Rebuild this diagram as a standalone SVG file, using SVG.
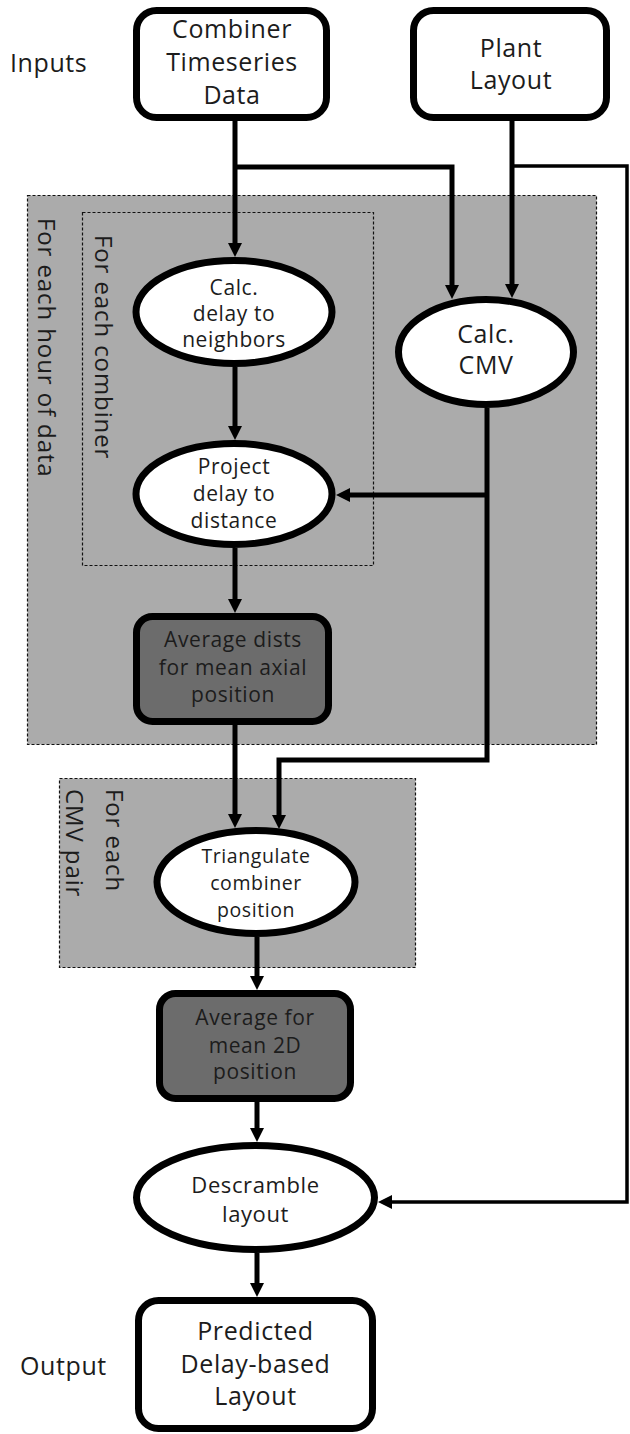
<svg xmlns="http://www.w3.org/2000/svg" width="630" height="1434" viewBox="0 0 630 1434">
  <style>
    .lbl{font-family:"Open Sans","Liberation Sans",sans-serif;fill:#1c1c1c;text-anchor:middle;letter-spacing:0.6px}
    .side{font-family:"Open Sans","Liberation Sans",sans-serif;fill:#1c1c1c;font-size:25px;letter-spacing:0.6px}
    .vt{font-family:"Open Sans","Liberation Sans",sans-serif;fill:#1c1c1c;font-size:24px;letter-spacing:0.9px}
    .box{fill:#ffffff;stroke:#000;stroke-width:7}
    .dark{fill:#6c6c6c;stroke:#000;stroke-width:7}
    .ell{fill:#ffffff;stroke:#000;stroke-width:7}
    .cont{fill:#ababab;stroke:#111;stroke-width:1.2;stroke-dasharray:3 2}
    .cont2{fill:none;stroke:#111;stroke-width:1.2;stroke-dasharray:3 2}
    .con{fill:none;stroke:#000;stroke-width:5}
    .thin{fill:none;stroke:#000;stroke-width:3.5}
  </style>
  <defs>
    <marker id="arr" viewBox="0 0 14 14" refX="8" refY="7" markerWidth="14" markerHeight="14" markerUnits="userSpaceOnUse" orient="auto">
      <path d="M0,0 L14,7 L0,14 z" fill="#000"/>
    </marker>
  </defs>

  <!-- containers -->
  <g id="loop-hour">
    <rect class="cont" x="27.5" y="195.5" width="569" height="549"/>
    <text class="vt" transform="translate(38,218) rotate(90)">For each hour of data</text>
  </g>
  <g id="loop-combiner">
    <rect class="cont2" x="82.5" y="212.5" width="291" height="353"/>
    <text class="vt" transform="translate(95,235) rotate(90)">For each combiner</text>
  </g>
  <g id="loop-cmv">
    <rect class="cont" x="59.5" y="778.5" width="356" height="189"/>
    <text class="vt" transform="translate(106,789) rotate(90)"><tspan x="0" y="0">For each</tspan><tspan x="0" y="40">CMV pair</tspan></text>
  </g>

  <!-- side labels -->
  <text class="side" x="10" y="72">Inputs</text>
  <text class="side" x="20" y="1375">Output</text>

  <!-- connectors -->
  <g id="connectors">
    <path class="con" d="M235,121 V251" marker-end="url(#arr)"/>
    <path class="con" d="M235,167 H452 V293" marker-end="url(#arr)"/>
    <path class="con" d="M512,121 V292" marker-end="url(#arr)"/>
    <path class="thin" d="M512,166 H627 V1202 H384" marker-end="url(#arr)"/>
    <path class="con" d="M235,367 V434" marker-end="url(#arr)"/>
    <path class="con" d="M489,495 H342" marker-end="url(#arr)"/>
    <path class="con" d="M487,408 V760 H279 V823" marker-end="url(#arr)"/>
    <path class="con" d="M235,548 V607" marker-end="url(#arr)"/>
    <path class="con" d="M235,725 V822" marker-end="url(#arr)"/>
    <path class="con" d="M257,937 V984" marker-end="url(#arr)"/>
    <path class="con" d="M257,1102 V1136" marker-end="url(#arr)"/>
    <path class="con" d="M257,1253 V1291" marker-end="url(#arr)"/>
  </g>

  <!-- nodes -->
  <g id="combiner-data">
    <rect class="box" x="136.5" y="10.5" width="190" height="107" rx="20"/>
    <text class="lbl" font-size="25" x="232" y="38">Combiner</text>
    <text class="lbl" font-size="25" x="232" y="71">Timeseries</text>
    <text class="lbl" font-size="25" x="232" y="104">Data</text>
  </g>
  <g id="plant-layout">
    <rect class="box" x="413.5" y="10.5" width="193" height="107" rx="20"/>
    <text class="lbl" font-size="25" x="511" y="57">Plant</text>
    <text class="lbl" font-size="25" x="511" y="89">Layout</text>
  </g>
  <g id="calc-delay">
    <ellipse class="ell" cx="234" cy="312" rx="98" ry="51.5"/>
    <text class="lbl" font-size="21" x="234" y="295">Calc.</text>
    <text class="lbl" font-size="21" x="234" y="321">delay to</text>
    <text class="lbl" font-size="21" x="234" y="347">neighbors</text>
  </g>
  <g id="calc-cmv">
    <ellipse class="ell" cx="486" cy="352" rx="87.5" ry="52.5"/>
    <text class="lbl" font-size="25" x="486" y="343">Calc.</text>
    <text class="lbl" font-size="25" x="486" y="374">CMV</text>
  </g>
  <g id="project-delay">
    <ellipse class="ell" cx="234" cy="494" rx="98" ry="50.5"/>
    <text class="lbl" font-size="21" x="234" y="474">Project</text>
    <text class="lbl" font-size="21" x="234" y="501">delay to</text>
    <text class="lbl" font-size="21" x="234" y="528">distance</text>
  </g>
  <g id="average-dists">
    <rect class="dark" x="136.5" y="616.5" width="192" height="105" rx="16"/>
    <text class="lbl" font-size="21" x="233" y="647">Average dists</text>
    <text class="lbl" font-size="21" x="233" y="675">for mean axial</text>
    <text class="lbl" font-size="21" x="233" y="702">position</text>
  </g>
  <g id="triangulate">
    <ellipse class="ell" cx="256" cy="882" rx="99" ry="51.5"/>
    <text class="lbl" font-size="19.5" x="256" y="863">Triangulate</text>
    <text class="lbl" font-size="19.5" x="256" y="890">combiner</text>
    <text class="lbl" font-size="19.5" x="256" y="917">position</text>
  </g>
  <g id="average-2d">
    <rect class="dark" x="159.5" y="993.5" width="191" height="105" rx="16"/>
    <text class="lbl" font-size="21" x="255" y="1025">Average for</text>
    <text class="lbl" font-size="21" x="255" y="1053">mean 2D</text>
    <text class="lbl" font-size="21" x="255" y="1079">position</text>
  </g>
  <g id="descramble">
    <ellipse class="ell" cx="255.5" cy="1197.5" rx="119" ry="52"/>
    <text class="lbl" font-size="22" x="255.5" y="1193">Descramble</text>
    <text class="lbl" font-size="22" x="255.5" y="1222">layout</text>
  </g>
  <g id="predicted-layout">
    <rect class="box" x="138.5" y="1300.5" width="234" height="128" rx="20"/>
    <text class="lbl" font-size="25" x="255.5" y="1340">Predicted</text>
    <text class="lbl" font-size="25" x="255.5" y="1373">Delay-based</text>
    <text class="lbl" font-size="25" x="255.5" y="1405">Layout</text>
  </g>
</svg>
